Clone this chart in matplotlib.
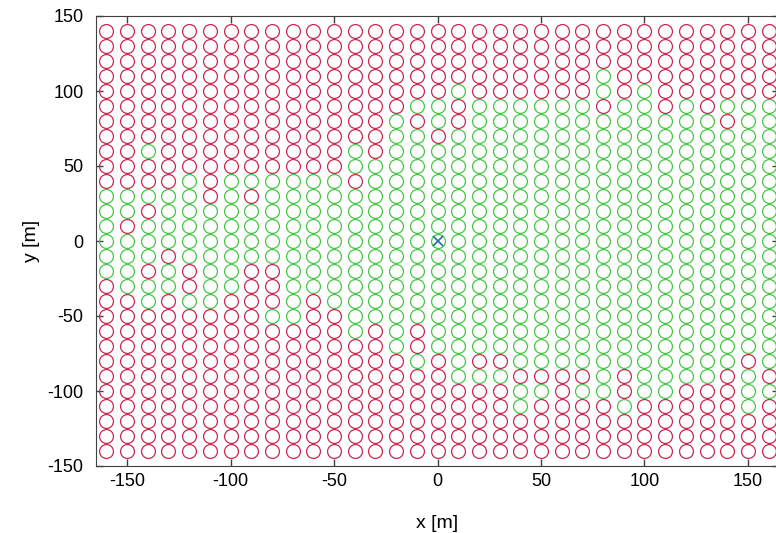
import numpy as np
import matplotlib.pyplot as plt

plt.rcParams['font.family'] = ['Liberation Sans', 'DejaVu Sans']
plt.rcParams['axes.unicode_minus'] = False

# grid of receiver points, 10 m spacing
xs = np.arange(-160, 161, 10)
ys = np.arange(140, -141, -10)

# status per point, one string per row from y=140 down to y=-140
# r = fails, g = passes
status = [
    "rrrrrrrrrrrrrrrrrrrrrrrrrrrrrrrrr",  # 140
    "rrrrrrrrrrrrrrrrrrrrrrrrrrrrrrrrr",  # 130
    "rrrrrrrrrrrrrrrrrrrrrrrrrrrrrrrrr",  # 120
    "rrrrrrrrrrrrrrrrrrrrrrrrgrrrrrrrr",  # 110
    "rrrrrrrrrrrrrrrrrgrrrrrrgrgrrrrrr",  # 100
    "rrrrrrrrrrrrrrrggrggggggrggrgrggg",  # 90
    "rrrrrrrrrrrrrrgrgrggggggggggggrgg",  # 80
    "rrrrrrrrrrrrrrggrgggggggggggggggg",  # 70
    "rrgrrrrrrrrrgrggggggggggggggggggg",  # 60
    "rrrrrrrrrrrrggggggggggggggggggggg",  # 50
    "rrrrgrggggggrgggggggggggggggggggg",  # 40
    "gggggrgrggggggggggggggggggggggggg",  # 30
    "ggrgggggggggggggggggggggggggggggg",  # 20
    "grggggggggggggggggggggggggggggggg",  # 10
    "ggggggggggggggggggggggggggggggggg",  # 0
    "gggrggggggggggggggggggggggggggggg",  # -10
    "ggrgrggrrgggggggggggggggggggggggg",  # -20
    "rgggrggrrgggggggggggggggggggggggg",  # -30
    "rrgrggrrrgrgggggggggggggggggggggg",  # -40
    "rrrrrrrrggrrggggggggggggggggggggg",  # -50
    "rrrrrrrrrrrrgrgrggggggggggggggggg",  # -60
    "rrrrrrrrrrrrrrgrggggggggggggggggg",  # -70
    "rrrrrrrrrrrrrrrgrgrrgggggggggggrg",  # -80
    "rrrrrrrrrrrrrrrrrgggrrrrgrggggrgr",  # -90
    "rrrrrrrrrrrrrrrrrrrrggrggrggrrrgg",  # -100
    "rrrrrrrrrrrrrrrrrrrrgrrrrgrrrrrgr",  # -110
    "rrrrrrrrrrrrrrrrrrrrrrrrrrrrrrrrr",  # -120
    "rrrrrrrrrrrrrrrrrrrrrrrrrrrrrrrrr",  # -130
    "rrrrrrrrrrrrrrrrrrrrrrrrrrrrrrrrr",  # -140
]

source_x, source_y = 0, 0

red = '#cc2852'
green = '#48c648'

fig = plt.figure(figsize=(7.76, 5.33), dpi=100)
ax = fig.add_axes([96 / 776, 67 / 533, 683 / 776, 450 / 533])

for y, row in zip(ys, status):
    for c in 'rg':
        sel = np.array([s == c for s in row])
        ax.plot(xs[sel], np.full(sel.sum(), y), 'o', ms=10, mfc='none',
                mec=red if c == 'r' else green, mew=0.9, ls='none')

ax.plot(source_x, source_y, 'x', ms=7, mew=1.2, color='#1f6fa0')

ax.set_xlim(-165, 165)
ax.set_ylim(-150, 150)
ax.set_xticks(np.arange(-150, 151, 50))
ax.set_yticks(np.arange(-150, 151, 50))
ax.tick_params(direction='in', top=True, right=True, length=5,
               width=1, color='#404040', labelsize=13)
ax.tick_params(axis='y', pad=9)
ax.tick_params(axis='x', pad=5)
for sp in ax.spines.values():
    sp.set_color('#404040')
ax.set_xlabel('x [m]', fontsize=14, labelpad=18)
ax.set_ylabel('y [m]', fontsize=14, labelpad=5)

fig.savefig('out.png', dpi=100)
